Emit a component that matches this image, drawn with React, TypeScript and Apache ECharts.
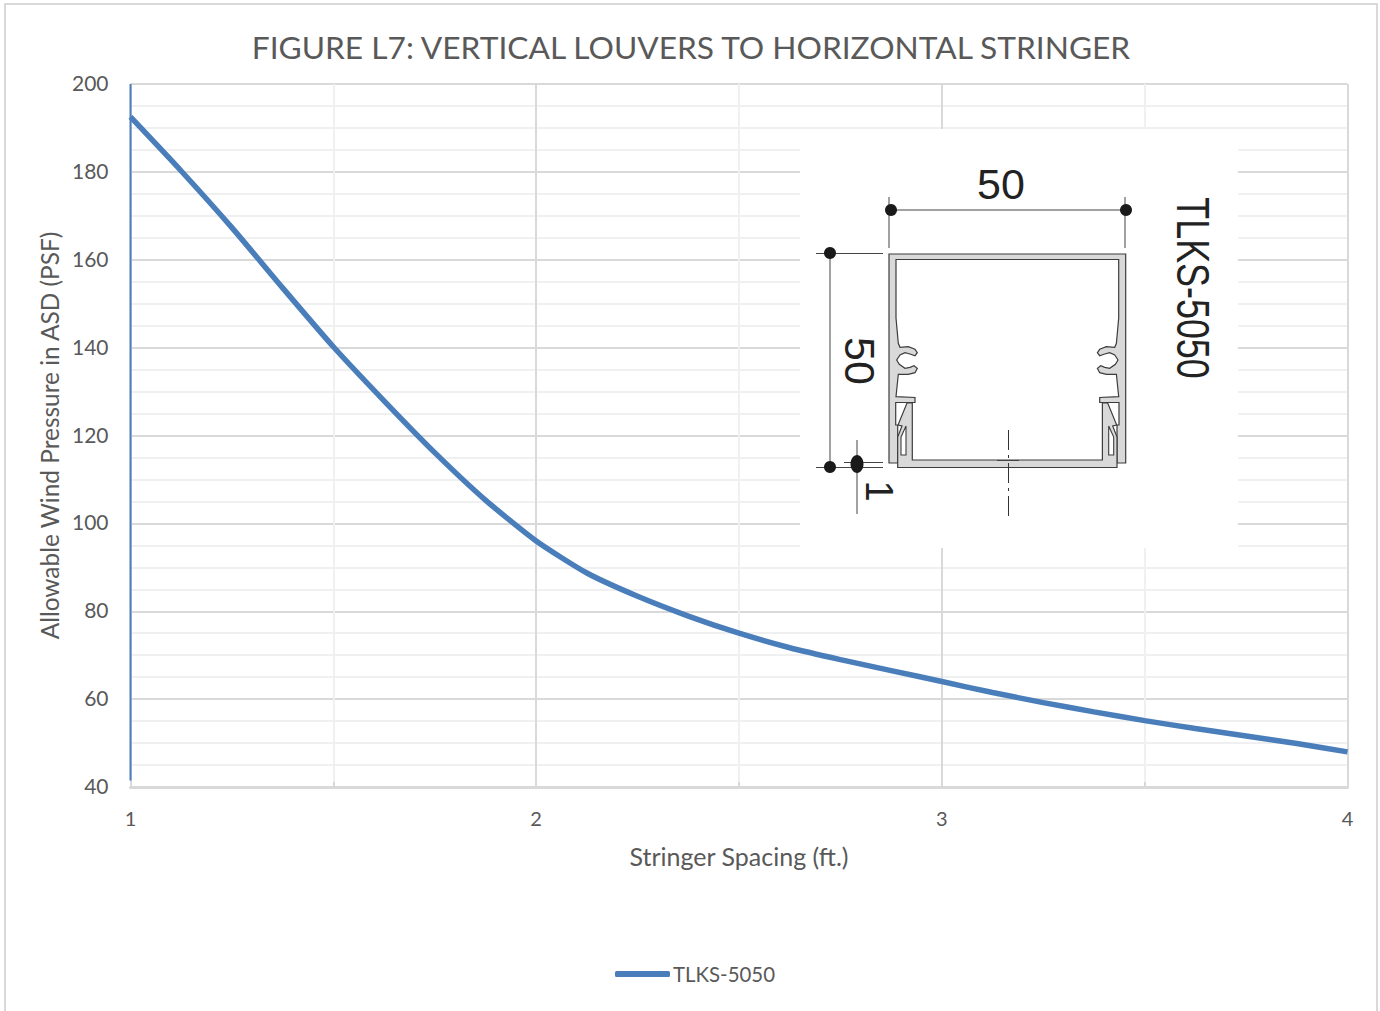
import React, { useEffect, useRef } from "react";
import * as echarts from "echarts";

const seriesName = "TLKS-5050";
const spacing = [
  1, 1.125, 1.25, 1.375, 1.5, 1.625, 1.75, 1.875, 2, 2.125, 2.25, 2.375, 2.5,
  2.625, 2.75, 2.875, 3, 3.125, 3.25, 3.375, 3.5, 3.625, 3.75, 3.875, 4,
];
const pressure = [
  192.5, 180.2, 167.3, 153.6, 140.2, 127.9, 116.1, 105.3, 96, 88.7, 83.4, 78.9, 75,
  71.7, 69, 66.5, 64, 61.5, 59.2, 57.1, 55.1, 53.3, 51.6, 49.9, 48,
];
const axisStroke = [[1, 200], [1, 41.5]];

const titleText = "FIGURE L7: VERTICAL LOUVERS TO HORIZONTAL STRINGER";
const xName = "Stringer Spacing (ft.)";
const yName = "Allowable Wind Pressure in ASD (PSF)";

const FONT = "Lato";
const DRAW_FONT = "Liberation Sans";
const GREY = "#595959";
const BLUE = "#4a7ebb";

const C = 2014.7 / 2;
const mirror = (pts: number[][]) => pts.map(([x, y]) => [2 * C - x, y]).reverse();

const wallInner = [
  [896, 259.5], [896, 318], [898.3, 343.3], [900, 347.3], [908.3, 346.7], [915, 349.3], [917.3, 352.7],
  [915, 355.7], [910, 354], [905, 352.7], [900, 355], [896.7, 360], [899.3, 364.3], [905, 368.3],
  [910, 367.3], [914, 365.7], [917.3, 368.3], [915, 372.7], [908.3, 374.3], [898.3, 374.3],
  [896, 396.7], [915, 397.5], [915, 402.5], [895.7, 402.5], [895.7, 425], [897.7, 425], [897.7, 463],
];
const wallShape = [[889, 254], [1125.7, 254], [1125.7, 463], ...mirror(wallInner), ...wallInner, [889, 463]];
const baseLeft = [
  [897.7, 467.5], [897.7, 437], [902, 426], [898, 425], [907, 403], [912.3, 403], [912.3, 460],
];
const baseShape = [...baseLeft, ...mirror(baseLeft)];
const windowLeft = [[901, 437], [906, 426], [906, 455], [901, 455]];
const windowRight = mirror(windowLeft);

const dots = [[891, 210], [1126, 210], [830, 253], [830, 467]];
const dimLines = [
  [891, 210, 1126, 210], [889, 197, 889, 248], [1125, 197, 1125, 248],
  [830, 253, 830, 467], [816, 253.5, 883, 253.5], [816, 467.5, 883, 467.5],
  [844, 462.5, 883, 462.5], [857, 440, 857, 514],
  [997, 460.5, 1019, 460.5],
];

function inset() {
  const z = 100;
  const els: any[] = [
    { type: "rect", z, shape: { x: 800, y: 129, width: 438, height: 419 }, style: { fill: "#fff" } },
    { type: "polygon", z: z + 1, shape: { points: wallShape }, style: { fill: "#d9d9d9", stroke: "#3c3c3c", lineWidth: 1.2 } },
    { type: "polygon", z: z + 2, shape: { points: baseShape }, style: { fill: "#d9d9d9", stroke: "#3c3c3c", lineWidth: 1.2 } },
    { type: "polygon", z: z + 3, shape: { points: windowLeft }, style: { fill: "#fff", stroke: "#3c3c3c", lineWidth: 1.1 } },
    { type: "polygon", z: z + 3, shape: { points: windowRight }, style: { fill: "#fff", stroke: "#3c3c3c", lineWidth: 1.1 } },
    {
      type: "line", z: z + 4,
      shape: { x1: 1008.5, y1: 430, x2: 1008.5, y2: 517 },
      style: { stroke: "#333", lineWidth: 1, lineDash: [20, 5, 3, 5] },
    },
  ];
  dimLines.forEach(([x1, y1, x2, y2]) =>
    els.push({ type: "line", z: z + 4, shape: { x1, y1, x2, y2 }, style: { stroke: "#444", lineWidth: 1 } })
  );
  dots.forEach(([cx, cy]) =>
    els.push({ type: "circle", z: z + 5, shape: { cx, cy, r: 6 }, style: { fill: "#1a1a1a" } })
  );
  els.push({ type: "ellipse", z: z + 5, shape: { cx: 857, cy: 464, rx: 6.5, ry: 9 }, style: { fill: "#1a1a1a" } });
  const label = (text: string, x: number, y: number, size: number, rot: number, sx = 1) => ({
    type: "text", z: z + 5, x, y, rotation: rot, scaleX: sx,
    style: { text, fontFamily: DRAW_FONT, fontSize: size, fill: "#222", align: "center", verticalAlign: "middle" },
  });
  els.push(label("50", 1001, 184, 43, 0));
  els.push(label("50", 860, 361, 43, -Math.PI / 2));
  els.push(label("TLKS-5050", 1193, 288, 46, -Math.PI / 2, 0.78));
  els.push(label("1", 879, 491, 38, -Math.PI / 2));
  return els;
}

export default function App() {
  const ref = useRef<HTMLDivElement>(null);
  useEffect(() => {
    const chart = echarts.init(ref.current!, undefined, { renderer: "svg" });
    chart.setOption({
      animation: false,
      backgroundColor: "#fff",
      title: {
        text: titleText, left: 686, top: 26, textAlign: "center",
        textStyle: { fontFamily: FONT, fontWeight: "normal", fontSize: 31.7, color: GREY },
      },
      grid: { left: 130.5, top: 84, width: 1217, height: 703, show: false },
      legend: {
        data: [seriesName], left: 610, top: 959, itemWidth: 55, itemHeight: 6, icon: "roundRect",
        textStyle: { fontFamily: FONT, fontSize: 20.4, color: GREY, padding: [0, 0, 0, -2] },
      },
      xAxis: {
        type: "value", min: 1, max: 4, interval: 1, name: xName, nameLocation: "middle", nameGap: 56,
        nameTextStyle: { fontFamily: FONT, fontSize: 25, color: GREY },
        axisLine: { show: true, lineStyle: { color: "#d9d9d9", width: 3 } },
        axisTick: { show: true, inside: true, length: 5, lineStyle: { color: "#d9d9d9", width: 2 } },
        axisLabel: { fontFamily: FONT, fontSize: 20, color: GREY, margin: 21 },
        splitLine: { show: true, lineStyle: { color: "#d9d9d9", width: 2 } },
        minorSplitLine: { show: true, lineStyle: { color: "#f0f0f0", width: 2 } },
        minorTick: { show: true, splitNumber: 2, length: 5, lineStyle: { color: "#d9d9d9", width: 2 } },
      },
      yAxis: {
        type: "value", min: 40, max: 200, interval: 20, name: yName, nameLocation: "middle", nameGap: 69,
        nameTextStyle: { fontFamily: FONT, fontSize: 24.4, color: GREY },
        axisLine: { show: false },
        axisTick: { show: false },
        axisLabel: {
          margin: 22,
          formatter: (v: number) => `{a|${v}}`,
          rich: { a: { fontFamily: FONT, fontSize: 21, color: GREY, padding: [0, 0, 3, 0] } },
        },
        splitLine: { show: true, lineStyle: { color: "#d9d9d9", width: 2 } },
        minorSplitLine: { show: true, lineStyle: { color: "#f0f0f0", width: 2 } },
        minorTick: { show: false, splitNumber: 4 },
      },
      series: [
        {
          name: "axis-stroke", type: "line", data: axisStroke, showSymbol: false, clip: false, silent: true,
          lineStyle: { color: BLUE, width: 2 }, itemStyle: { color: BLUE },
        },
        {
          name: seriesName, type: "line", data: spacing.map((x, i) => [x, pressure[i]]),
          smooth: 0.2, showSymbol: false,
          lineStyle: { color: BLUE, width: 5.5 }, itemStyle: { color: BLUE },
        },
      ],
      graphic: {
        elements: [
          { type: "rect", z: 99, shape: { x: 5, y: 4, width: 1372, height: 1030 }, style: { fill: "transparent", stroke: "#d9d9d9", lineWidth: 2 } },
          ...inset(),
        ],
      },
    });
    return () => chart.dispose();
  }, []);
  return <div ref={ref} style={{ position: "absolute", left: 0, top: 0, width: 1380, height: 1011 }} />;
}
